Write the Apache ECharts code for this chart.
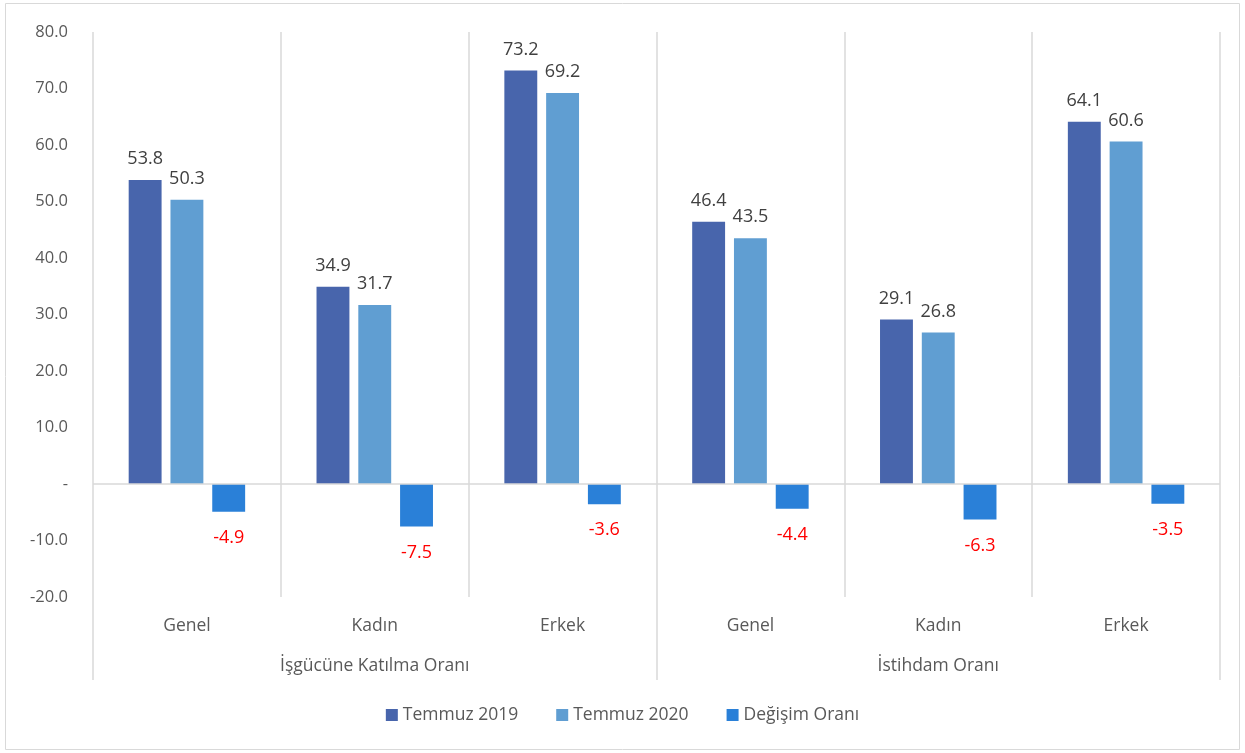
<!DOCTYPE html>
<html><head><meta charset="utf-8">
<script src="https://cdn.jsdelivr.net/npm/echarts@6/dist/echarts.min.js"></script>
<style>html,body{margin:0;padding:0;background:#fff}#c{width:1245px;height:753px}</style>
</head><body><div id="c"></div>
<script>
const categories = ['Genel','Kadın','Erkek','Genel','Kadın','Erkek'];
const groups = ['İşgücüne Katılma Oranı','İstihdam Oranı'];
const seriesNames = ['Temmuz 2019','Temmuz 2020','Değişim Oranı'];
const temmuz2019 = [53.8, 34.9, 73.2, 46.4, 29.1, 64.1];
const temmuz2020 = [50.3, 31.7, 69.2, 43.5, 26.8, 60.6];
const degisim = [-4.9, -7.5, -3.6, -4.4, -6.3, -3.5];
const colors = ['#4865AC','#609ED2','#2A80D8'];
const FONT = 'Open Sans';
const chart = echarts.init(document.getElementById('c'));
const lbl = {show:true, position:'top', distance:12, color:'#404040', fontSize:18, fontFamily:FONT, formatter:p=>p.value.toFixed(1)};
chart.setOption({
  animation:false,
  textStyle:{fontFamily:FONT},
  graphic:[{type:'rect', shape:{x:5.5,y:3.5,width:1234,height:746}, style:{fill:'none', stroke:'#d9d9d9', lineWidth:1}}],
  grid:{left:93, right:25, top:32, bottom:156, containLabel:false},
  legend:{bottom:24, left:'center', itemWidth:12, itemHeight:12, itemGap:38, icon:'rect',
    textStyle:{color:'#595959', fontSize:17.5, fontFamily:FONT}, data:seriesNames},
  xAxis:[
    {type:'category', data:categories, axisLine:{show:false}, axisTick:{show:false},
     axisLabel:{color:'#595959', fontSize:17.5, fontFamily:FONT, margin:20},
     splitLine:{show:true, lineStyle:{color:'#d9d9d9', width:1.5}}},
    {type:'category', data:groups, position:'bottom', axisLine:{show:false},
     axisTick:{show:true, length:83, lineStyle:{color:'#d9d9d9', width:1.5}},
     axisLabel:{color:'#595959', fontSize:17.5, fontFamily:FONT, margin:60}}
  ],
  yAxis:{type:'value', min:-20, max:80, interval:10, axisLine:{show:false}, axisTick:{show:false}, splitLine:{show:false},
    axisLabel:{color:'#595959', fontSize:16.5, fontFamily:FONT, margin:25, formatter:v=>v===0?'-':v.toFixed(1)}},
  series:[
    {name:seriesNames[0], type:'bar', data:temmuz2019, itemStyle:{color:colors[0]}, barGap:'27%', barCategoryGap:'38%', label:lbl},
    {name:seriesNames[1], type:'bar', data:temmuz2020, itemStyle:{color:colors[1]}, label:lbl},
    {name:seriesNames[2], type:'bar', data:degisim, itemStyle:{color:colors[2]},
     label:{show:true, position:'bottom', distance:17, color:'#FF0000', fontSize:18, fontFamily:FONT, formatter:p=>p.value.toFixed(1)},
     markLine:{silent:true, symbol:'none', label:{show:false}, lineStyle:{color:'#d9d9d9', type:'solid', width:1.5}, data:[{yAxis:0}]}}
  ]
});
</script></body></html>
